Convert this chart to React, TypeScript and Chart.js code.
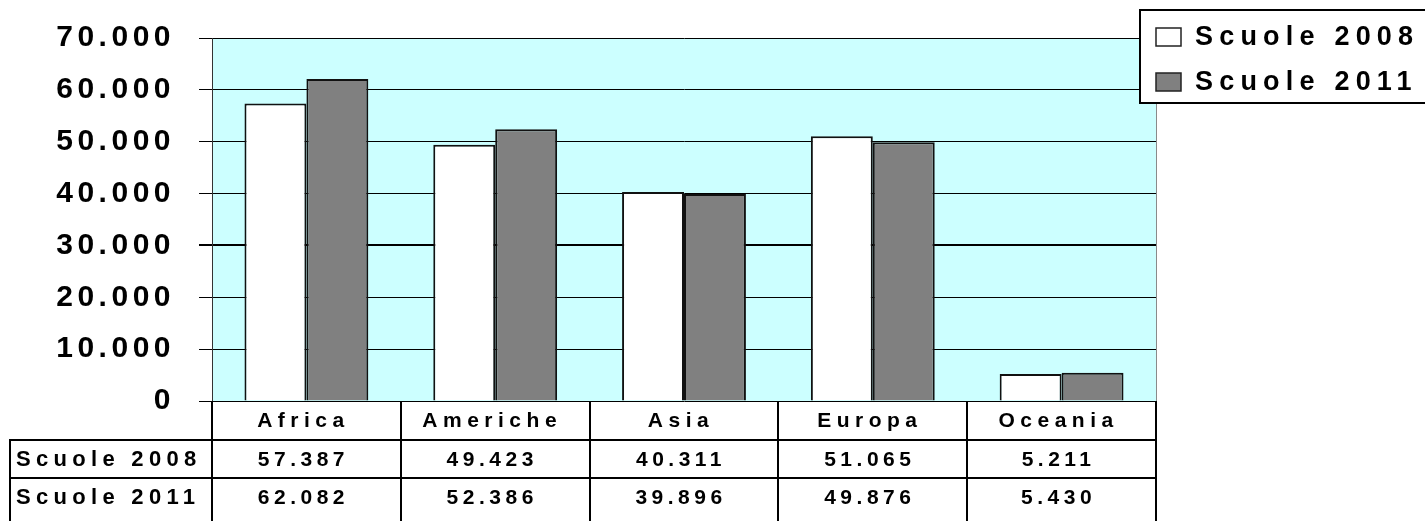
import React, { useEffect, useRef } from 'react';
import { Chart, registerables } from 'chart.js';

Chart.register(...registerables);

const categories = ['Africa', 'Americhe', 'Asia', 'Europa', 'Oceania'];
const seriesNames = ['Scuole 2008', 'Scuole 2011'];
const scuole2008 = [57387, 49423, 40311, 51065, 5211];
const scuole2011 = [62082, 52386, 39896, 49876, 5430];
const yMin = 0;
const yMax = 70000;
const yStep = 10000;

const FONT = '"Liberation Sans", Arial, Helvetica, sans-serif';
const seriesFill = ['#ffffff', '#808080'];
const seriesValues = [scuole2008, scuole2011];

function fmt(v: number): string {
  return String(Math.round(v)).replace(/\B(?=(\d{3})+(?!\d))/g, '.');
}

const decor = {
  id: 'decor',
  beforeDraw(chart: any) {
    const { ctx, chartArea: a } = chart;
    ctx.save();
    ctx.fillStyle = '#CCFFFF';
    ctx.fillRect(a.left, a.top, a.right - a.left, a.bottom - a.top);
    ctx.restore();
    ctx.letterSpacing = '4.5px';
  },
  afterDraw(chart: any) {
    const { ctx, chartArea: a } = chart;
    const xs = chart.scales.x;
    const H = chart.height;
    const n = categories.length;
    const colW = (a.right - a.left) / n;
    const r1 = a.bottom + 39;
    const r2 = r1 + 38;
    const r3 = r2 + 38;
    ctx.save();
    ctx.letterSpacing = '0px';
    // right border of plot
    ctx.strokeStyle = '#8a8a8a';
    ctx.lineWidth = 1;
    ctx.beginPath();
    ctx.moveTo(a.right + 0.5, a.top);
    ctx.lineTo(a.right + 0.5, a.bottom);
    ctx.stroke();

    // table lines
    ctx.strokeStyle = '#000';
    ctx.lineWidth = 2;
    const line = (x1: number, y1: number, x2: number, y2: number) => {
      ctx.beginPath();
      ctx.moveTo(x1, y1);
      ctx.lineTo(x2, y2);
      ctx.stroke();
    };
    line(9, r1, a.right + 1, r1);
    line(9, r2, a.right + 1, r2);
    line(10, r1, 10, H);
    for (let i = 0; i <= n; i++) {
      const x = Math.round(a.left + i * colW);
      line(x, a.bottom, x, H);
    }

    // table text
    ctx.fillStyle = '#000';
    ctx.textBaseline = 'middle';
    ctx.textAlign = 'center';
    ctx.font = `bold 21px ${FONT}`;
    for (let i = 0; i < n; i++) {
      const cx = xs.getPixelForValue(i) - 3;
      ctx.letterSpacing = '5.5px';
      ctx.fillText(categories[i], cx, (a.bottom + r1) / 2 + 1);
      ctx.letterSpacing = '4.5px';
      ctx.fillText(fmt(scuole2008[i]), cx, (r1 + r2) / 2 + 1);
      ctx.fillText(fmt(scuole2011[i]), cx, (r2 + r3) / 2 + 1);
    }
    ctx.textAlign = 'left';
    ctx.font = `bold 22px ${FONT}`;
    ctx.letterSpacing = '5.3px';
    ctx.fillText(seriesNames[0], 16, (r1 + r2) / 2 + 1);
    ctx.fillText(seriesNames[1], 16, (r2 + r3) / 2 + 1);

    // legend
    const lx = 1140;
    const ly = 10;
    ctx.letterSpacing = '0px';
    ctx.fillStyle = '#fff';
    ctx.fillRect(lx, ly, chart.width - lx + 10, 93);
    ctx.strokeStyle = '#000';
    ctx.lineWidth = 2;
    ctx.strokeRect(lx, ly, chart.width - lx + 10, 93);
    ctx.font = `bold 27px ${FONT}`;
    ctx.letterSpacing = '6.2px';
    for (let s = 0; s < 2; s++) {
      const cy = 37 + s * 45;
      ctx.fillStyle = seriesFill[s];
      ctx.fillRect(1156, cy - 9, 25, 18);
      ctx.strokeStyle = '#222';
      ctx.lineWidth = 1.5;
      ctx.strokeRect(1156, cy - 9, 25, 18);
      ctx.fillStyle = '#000';
      ctx.textAlign = 'left';
      ctx.fillText(seriesNames[s], 1195, cy + 1);
    }
    ctx.restore();
  },
};

export default function App() {
  const ref = useRef<HTMLCanvasElement | null>(null);
  useEffect(() => {
    if (!ref.current) return;
    const chart = new Chart(ref.current, {
      type: 'bar',
      data: {
        labels: categories,
        datasets: seriesNames.map((name, s) => ({
          label: name,
          data: seriesValues[s],
          backgroundColor: seriesFill[s],
          borderColor: '#111',
          borderWidth: 2,
          categoryPercentage: 0.656,
          barPercentage: 1.0,
        })),
      },
      options: {
        animation: false,
        responsive: true,
        maintainAspectRatio: false,
        layout: { padding: { top: 38, right: 269, bottom: 120, left: 0 } },
        plugins: {
          legend: { display: false },
          tooltip: { enabled: false },
          title: { display: false },
        },
        scales: {
          x: { display: false },
          y: {
            min: yMin,
            max: yMax,
            ticks: {
              stepSize: yStep,
              color: '#000',
              padding: 24,
              font: { family: FONT, size: 30, weight: 'bold' },
              callback: (v: any) => fmt(Number(v)),
            },
            grid: {
              color: '#000',
              lineWidth: (c: any) => (c.tick && c.tick.value === 30000 ? 2 : 1),
              tickLength: 13,
            },
            border: { display: true, color: '#333', width: 1 },
            afterFit: (scale: any) => {
              scale.width = 212;
              scale.paddingTop = 0;
              scale.paddingBottom = 0;
            },
          },
        },
      },
      plugins: [decor],
    } as any);
    return () => chart.destroy();
  }, []);
  return (
    <div style={{ position: 'absolute', left: 0, top: 0, width: 1425, height: 521 }}>
      <canvas ref={ref} />
    </div>
  );
}
